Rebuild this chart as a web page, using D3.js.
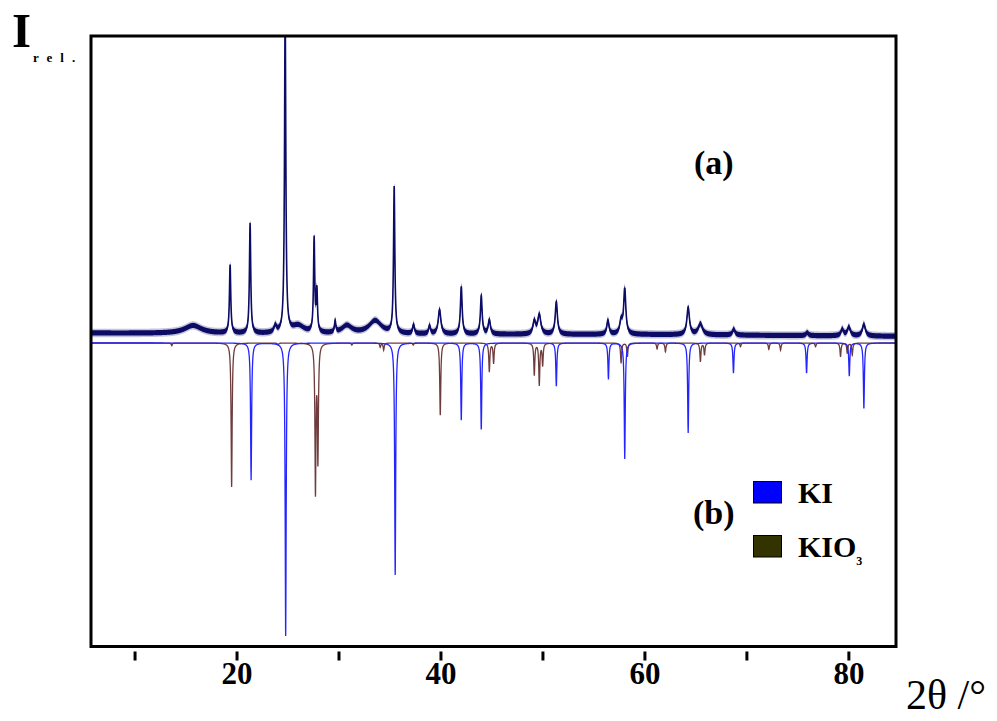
<!DOCTYPE html>
<html>
<head>
<meta charset="utf-8">
<script src="https://cdn.jsdelivr.net/npm/d3@7"></script>
<style>
  html, body { margin: 0; padding: 0; background: #fff; }
  svg { display: block; }
  text { font-family: "Liberation Serif", "Times New Roman", serif; }
</style>
</head>
<body>
<svg id="chart" width="997" height="721"></svg>
<script>
// 2θ axis ticks and labels
const tickValues = [10, 20, 30, 40, 50, 60, 70, 80];
const tickLabels = ["", "20", "", "40", "", "60", "", "80"];

// Reference pattern KI: [2θ, relative intensity]
const kiPeaks = [
  [21.43, 46.8], [24.82, 100], [35.56, 79.2], [42.04, 26.3], [44.00, 29.5],
  [51.36, 14.7], [56.47, 12.4], [58.07, 39.6], [64.29, 30.7], [68.73, 10.3],
  [75.90, 10.3], [80.09, 11.3], [81.52, 22.3]
];

// Reference pattern KIO3: [2θ, relative intensity]
const kio3Peaks = [
  [13.65, 0.9], [19.52, 49.1], [24.08, 0.7], [27.74, 50.2], [27.98, 39.2],
  [31.31, 0.7], [34.09, 1.4], [34.43, 2.4], [37.33, 0.7], [39.98, 24.6],
  [44.79, 9.8], [45.21, 6.9], [49.20, 10.9], [49.69, 14.3], [50.02, 7.5],
  [57.71, 6.9], [58.33, 4.7], [61.24, 2.0], [62.06, 3.0], [65.49, 6.4],
  [65.89, 4.1], [69.42, 1.3], [72.20, 2.2], [73.35, 2.4], [76.78, 1.3],
  [79.23, 4.7], [79.89, 3.5], [80.38, 4.1]
];

// Measured pattern (a): [2θ, intensity above background, FWHM]
const samplePeaks = [
  [15.74, 2.7, 2.0], [19.37, 23.3, 0.15], [21.33, 37.6, 0.15], [23.80, 2.3, 0.3],
  [24.77, 110, 0.15], [26.04, 2.7, 1.5], [27.61, 32.0, 0.14], [27.88, 14.0, 0.14],
  [29.67, 3.8, 0.15], [30.82, 2.7, 1.2], [33.60, 4.5, 1.5], [35.46, 49.9, 0.15],
  [37.36, 3.1, 0.2], [38.93, 2.8, 0.2], [39.91, 8.3, 0.3], [42.04, 16.2, 0.2],
  [44.00, 13.0, 0.2], [44.79, 4.8, 0.25], [49.20, 4.3, 0.3], [49.69, 6.6, 0.35],
  [51.36, 11.1, 0.25], [56.42, 4.8, 0.25], [57.71, 4.3, 0.3], [58.07, 15.3, 0.25],
  [64.29, 9.2, 0.3], [65.49, 3.7, 0.5], [68.76, 2.0, 0.3], [75.96, 1.0, 0.3],
  [79.40, 2.2, 0.3], [80.05, 3.0, 0.35], [81.52, 4.0, 0.35]
];

// Measured background level: [2θ, intensity]
const sampleBackground = [[5.7, 3.4], [30, 3.0], [60, 2.9], [84.7, 2.3]];

const frame = { left: 91, right: 896, top: 36, bottom: 646.5 };

const x = d3.scaleLinear().domain([5.73, 84.67]).range([frame.left, frame.right]);
const y = d3.scaleLinear().domain([-103.6, 104.8]).range([frame.bottom, frame.top]);

const svg = d3.select("#chart");

svg.append("defs").append("clipPath").attr("id", "plot-clip")
  .append("rect")
  .attr("x", frame.left).attr("y", frame.top)
  .attr("width", frame.right - frame.left).attr("height", frame.bottom - frame.top);

// Sampling grid: regular steps plus every peak centre so apexes are exact
function grid(peaks) {
  const pts = d3.range(5.73, 84.67, 0.02);
  peaks.forEach(p => pts.push(p[0]));
  return pts.sort((a, b) => a - b);
}
const lorentz = (t, c, w) => 1 / (1 + Math.pow((t - c) / (w / 2), 2));

// Stick references drawn as narrow profiles pointing down
function refProfile(peaks, fwhm) {
  return grid(peaks).map(t => [t, -d3.sum(peaks, p => p[1] * lorentz(t, p[0], fwhm))]);
}

const bgScale = d3.scaleLinear()
  .domain(sampleBackground.map(d => d[0]))
  .range(sampleBackground.map(d => d[1]));
const sampleProfile = grid(samplePeaks).map(t =>
  [t, bgScale(t) + d3.sum(samplePeaks, p => p[1] * lorentz(t, p[0], p[2]))]);

const line = d3.line().x(d => x(d[0])).y(d => y(d[1]));
const plot = svg.append("g").attr("clip-path", "url(#plot-clip)");

// Reference patterns (b)
plot.append("path").datum(refProfile(kio3Peaks, 0.12))
  .attr("d", line).attr("fill", "none")
  .attr("stroke", "#6e3c3c").attr("stroke-width", 1.3);
plot.append("path").datum(refProfile(kiPeaks, 0.12))
  .attr("d", line).attr("fill", "none")
  .attr("stroke", "#2424ff").attr("stroke-width", 1.3);

// Measured pattern (a): counting-noise band around the profile, then the trace
const band = (half) => d3.area()
  .x(d => x(d[0]))
  .y0(d => y(d[1]) + half)
  .y1(d => y(d[1]) - half);
plot.append("path").datum(sampleProfile)
  .attr("d", band(4.2)).attr("fill", "#8a8ab8").attr("opacity", 0.5);
plot.append("path").datum(sampleProfile)
  .attr("d", band(2.6)).attr("fill", "#0c0c66");
plot.append("path").datum(sampleProfile)
  .attr("d", line).attr("fill", "none")
  .attr("stroke", "#0c0c66").attr("stroke-width", 1.6);

// Frame
svg.append("rect")
  .attr("x", frame.left).attr("y", frame.top)
  .attr("width", frame.right - frame.left).attr("height", frame.bottom - frame.top)
  .attr("fill", "none").attr("stroke", "#000").attr("stroke-width", 3);

// Bottom axis, ticks set slightly below the frame
const axis = d3.axisBottom(x)
  .tickValues(tickValues)
  .tickFormat((d, i) => tickLabels[i])
  .tickSizeInner(9).tickSizeOuter(0).tickPadding(3);
const gx = svg.append("g").attr("transform", `translate(0,${frame.bottom + 5})`).call(axis);
gx.select(".domain").remove();
gx.selectAll(".tick line").attr("stroke", "#000").attr("stroke-width", 3);
gx.selectAll(".tick text")
  .attr("fill", "#000")
  .style("font-family", '"Liberation Serif", "Times New Roman", serif')
  .style("font-size", "31px").style("font-weight", "bold")
  .attr("dy", "0.66em");

// Axis titles
svg.append("text").attr("x", 906).attr("y", 709)
  .style("font-size", "42px").text("2θ /°");
svg.append("text").attr("x", 12).attr("y", 47)
  .style("font-size", "49px").style("font-weight", "bold").text("I");
svg.append("text").attr("x", 33).attr("y", 62)
  .style("font-size", "13px").style("font-weight", "bold")
  .style("letter-spacing", "8px").text("rel.");

// Panel labels
svg.append("text").attr("x", 694).attr("y", 174)
  .style("font-size", "34px").style("font-weight", "bold").text("(a)");
svg.append("text").attr("x", 693).attr("y", 524)
  .style("font-size", "34px").style("font-weight", "bold").text("(b)");

// Legend
const legend = [
  { name: "KI", sub: "", color: "#0000ff", y: 481.5 },
  { name: "KIO", sub: "3", color: "#333300", y: 535.5 }
];
const lg = svg.append("g");
legend.forEach(d => {
  lg.append("rect").attr("x", 753.5).attr("y", d.y).attr("width", 28).attr("height", 21.5)
    .attr("fill", d.color).attr("stroke", "#000").attr("stroke-width", 1);
  const t = lg.append("text").attr("x", 798).attr("y", d.y + 21.5)
    .style("font-size", "30px").style("font-weight", "bold").text(d.name);
  if (d.sub) {
    t.append("tspan").attr("dy", 8).style("font-size", "12px").text(d.sub);
  }
});
</script>
</body>
</html>
